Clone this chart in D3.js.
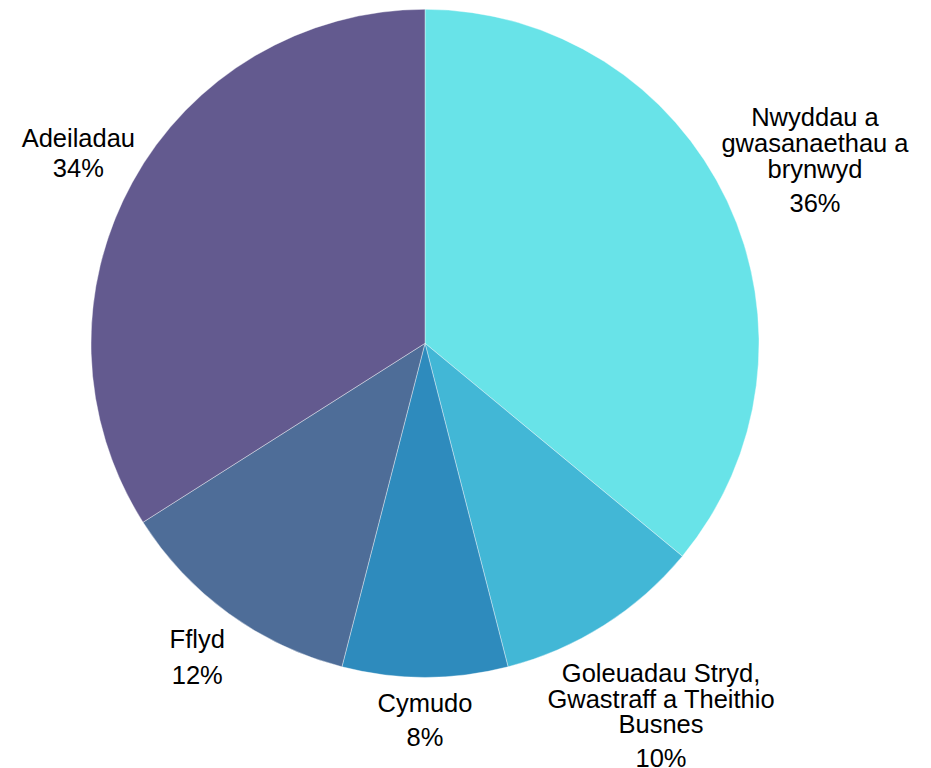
<!DOCTYPE html>
<html>
<head>
<meta charset="utf-8">
<script src="https://cdn.jsdelivr.net/npm/d3@7"></script>
<style>
  html, body { margin: 0; padding: 0; background: #ffffff; }
  svg { display: block; }
</style>
</head>
<body>
<svg id="chart" width="931" height="768"></svg>
<script>
// ---- data ----
const categories = [
  ["Nwyddau a", "gwasanaethau a", "brynwyd"],
  ["Goleuadau Stryd,", "Gwastraff a Theithio", "Busnes"],
  ["Cymudo"],
  ["Fflyd"],
  ["Adeiladau"]
];
const values = [36, 10, 8, 12, 34];
const percentLabels = ["36%", "10%", "8%", "12%", "34%"];
const colors = ["#68E3E8", "#42B7D6", "#2E8BBD", "#4E6D98", "#635A8F"];

// ---- layout (not data) ----
const W = 931, H = 768;
const cx = 425, cy = 343.3, R = 334;
const labelRadius = [431, 440.5, 376.5, 387.5, 395.6];
const pctGap = [34, 33.5, 34.5, 36.5, 30];
const lineGap = 25.8;
const fontSize = 25.5;
const capH = fontSize * 0.716;

const svg = d3.select("#chart");
const g = svg.append("g").attr("transform", `translate(${cx},${cy})`);

const pie = d3.pie().sort(null).value(d => d)(values);
const arc = d3.arc().innerRadius(0).outerRadius(R);

g.selectAll("path.slice")
  .data(pie)
  .join("path")
  .attr("class", "slice")
  .attr("d", arc)
  .attr("fill", (d, i) => colors[i])
  .attr("stroke", "rgba(255,255,255,0.55)")
  .attr("stroke-width", 0.7);

g.selectAll("text.lbl")
  .data(pie)
  .join("text")
  .attr("class", "lbl")
  .attr("font-family", "'Liberation Sans', Arial, sans-serif")
  .attr("font-size", fontSize)
  .attr("fill", "#000")
  .attr("text-anchor", "middle")
  .each(function(d, i) {
    const mid = (d.startAngle + d.endAngle) / 2;
    const r = labelRadius[i];
    const x = Math.sin(mid) * r;
    const y = -Math.cos(mid) * r;
    const lines = categories[i];
    const total = (lines.length - 1) * lineGap + pctGap[i];
    const firstBase = y - (total + capH) / 2 + capH;
    const t = d3.select(this);
    lines.forEach((ln, k) => {
      t.append("tspan").attr("x", x).attr("y", firstBase + k * lineGap).text(ln);
    });
    t.append("tspan").attr("x", x)
      .attr("y", firstBase + (lines.length - 1) * lineGap + pctGap[i])
      .text(percentLabels[i]);
  });
</script>
</body>
</html>
